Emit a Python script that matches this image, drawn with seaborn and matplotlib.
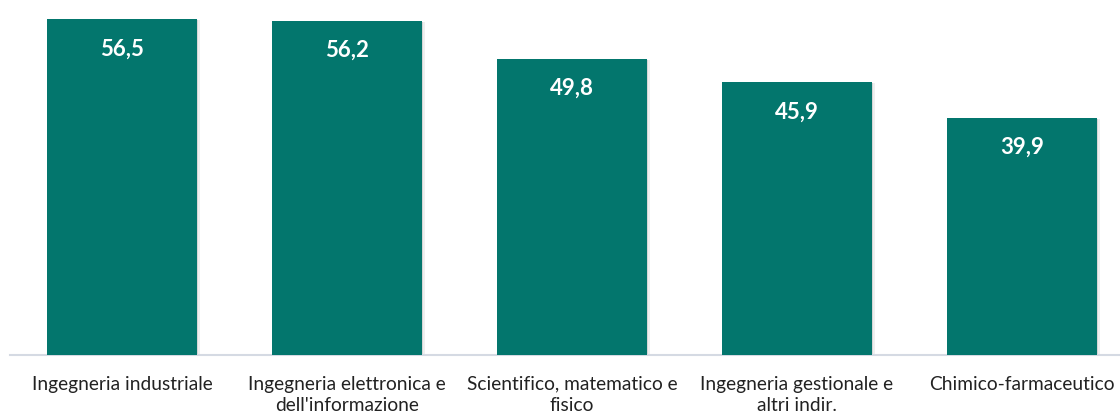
import matplotlib
matplotlib.use("Agg")
import matplotlib.pyplot as plt
import pandas as pd
import seaborn as sns

categories = [
    "Ingegneria industriale",
    "Ingegneria elettronica e\ndell'informazione",
    "Scientifico, matematico e\nfisico",
    "Ingegneria gestionale e\naltri indir.",
    "Chimico-farmaceutico",
]
values = [56.5, 56.2, 49.8, 45.9, 39.9]
value_labels = ["56,5", "56,2", "49,8", "45,9", "39,9"]

bar_color = "#03766D"

sns.set_theme(style="white")
plt.rcParams["font.family"] = ["Lato", "DejaVu Sans"]

df = pd.DataFrame({"category": categories, "value": values})

fig = plt.figure(figsize=(11.2, 4.17), dpi=100)
ax = fig.add_axes([9.5 / 1120, 1 - 355 / 417, 1125 / 1120, 355 / 417])

sns.barplot(data=df, x="category", y="value", color=bar_color, width=0.667,
            saturation=1, ax=ax, zorder=3, linewidth=0)

# soft drop shadow behind each bar
for p in list(ax.patches):
    for k, a in [(0.006, 0.22), (0.012, 0.12)]:
        shadow = plt.Rectangle((p.get_x() + k, p.get_y()), p.get_width(),
                               p.get_height() - 0.2, color="#808080", alpha=a,
                               lw=0, zorder=1)
        ax.add_patch(shadow)

for i, (v, lab) in enumerate(zip(values, value_labels)):
    ax.text(i, v - 5.0, lab, ha="center", va="center", color="white",
            fontsize=16, fontweight="bold", zorder=4)

ax.set_ylim(0, 59.7)
ax.set_xlim(-0.5, 4.5)
ax.set_xlabel("")
ax.set_ylabel("")
ax.set_yticks([])
ax.set_xticks(range(len(categories)), categories, multialignment="center",
              linespacing=1.3)
for s in ["top", "right", "left"]:
    ax.spines[s].set_visible(False)
ax.spines["bottom"].set_color("#D5DAE3")
ax.spines["bottom"].set_linewidth(1.5)
ax.tick_params(axis="x", length=0, pad=15, labelsize=13.8, colors="#222222")

fig.savefig("out.png", dpi=100)
